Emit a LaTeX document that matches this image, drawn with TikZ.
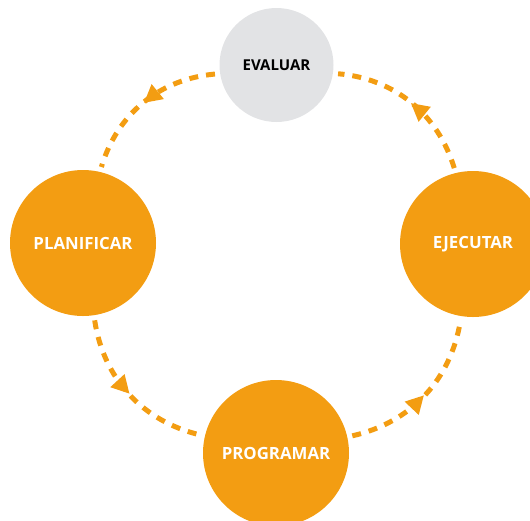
\documentclass[tikz,border=0pt]{standalone}
\usepackage{fontspec}
\setmainfont{Open Sans}
\usepackage{tikz}
\usetikzlibrary{arrows.meta,decorations.markings}

\definecolor{cycleorange}{RGB}{243,157,18}
\definecolor{cyclegray}{RGB}{226,227,229}

\begin{document}
\begin{tikzpicture}[x=1pt,y=-1pt,
  phase/.style={circle, fill=cycleorange, minimum size=146pt, inner sep=0pt,
    text=white, font=\fontsize{16.8}{20}\selectfont\bfseries},
  review/.style={phase, fill=cyclegray, minimum size=114pt, text=black,
    font=\fontsize{15}{18}\selectfont\bfseries},
  flow/.style={draw=cycleorange, line width=5pt, dash pattern=on 9pt off 8pt,
    shorten <=5pt, shorten >=5pt,
    postaction={decorate, decoration={markings,
      mark=at position 0.5 with {\arrow[cycleorange, solid]{Triangle[length=18pt,width=18pt]}}}}}]
\newcommand{\Bw}{530};
\newcommand{\Bh}{520};
\useasboundingbox (0,0) rectangle (\Bw,\Bh);

% phases
\node[review] (eval) at (276.5,65) {EVALUAR};
\node[phase] (plan) at (83,243) {PLANIFICAR};
\node[phase] (exec) at (473,244) {EJECUTAR};
\node[phase] (prog) at (276,453) {PROGRAMAR};
%

% cycle
\draw[flow] (eval) to[bend right=34] (plan);
\draw[flow] (plan) to[bend right=34] (prog);
\draw[flow] (prog) to[bend right=34] (exec);
\draw[flow] (exec) to[bend right=34] (eval);
%
\end{tikzpicture}
\end{document}
